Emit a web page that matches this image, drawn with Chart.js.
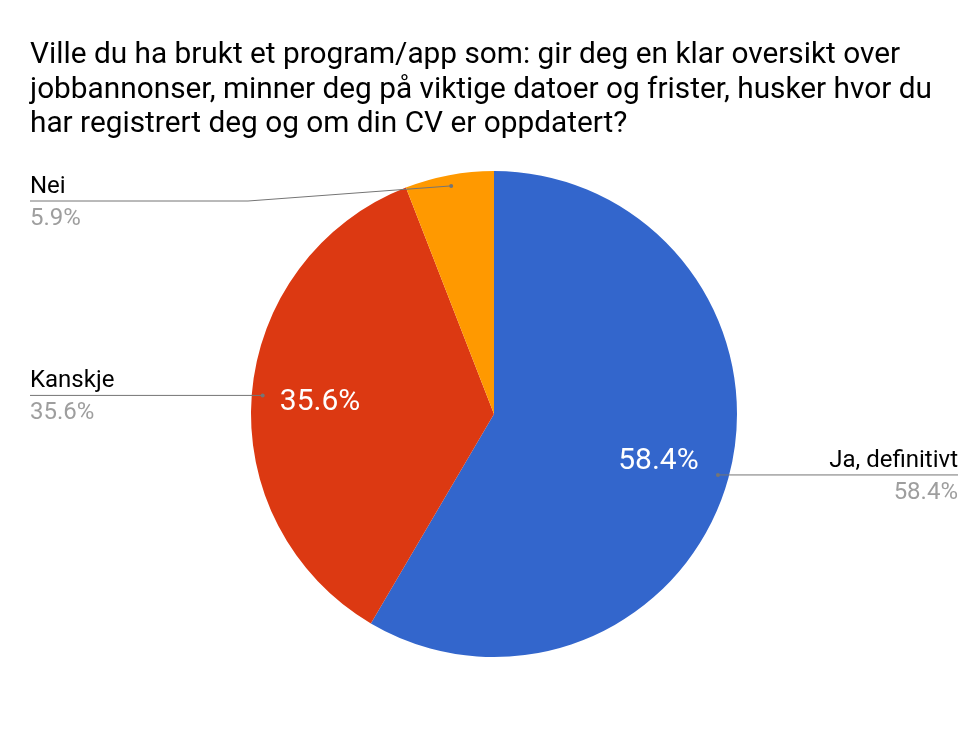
<!DOCTYPE html>
<html><head><meta charset="utf-8">
<script src="https://cdn.jsdelivr.net/npm/chart.js@4/dist/chart.umd.min.js"></script>
<style>html,body{margin:0;padding:0;background:#fff}canvas{display:block}</style>
</head><body>
<canvas id="c" width="968" height="745"></canvas>
<script>
const titleLines = ["Ville du ha brukt et program/app som: gir deg en klar oversikt over","jobbannonser, minner deg på viktige datoer og frister, husker hvor du","har registrert deg og om din CV er oppdatert?"];
const categories = ["Ja, definitivt","Kanskje","Nei"];
const values = [58.4, 35.6, 5.9];
const colors = ["#3366cc","#dc3912","#ff9900"];
const FONT = "Roboto, 'Liberation Sans', sans-serif";

const labelPlugin = {
  id:'labels',
  afterDraw(chart){
    const ctx = chart.ctx;
    ctx.save();
    ctx.fillStyle = '#000';
    ctx.font = '29.8px ' + FONT;
    ctx.textBaseline = 'alphabetic';
    ctx.textAlign = 'left';
    titleLines.forEach((t,i)=>ctx.fillText(t, 30, 63 + i*34.5));
    const meta = chart.getDatasetMeta(0);
    const total = values.reduce((a,b)=>a+b,0);
    meta.data.forEach((arc,i)=>{
      const {x,y,startAngle,endAngle,outerRadius} = arc.getProps(['x','y','startAngle','endAngle','outerRadius'],true);
      const mid = (startAngle+endAngle)/2;
      const pct = values[i].toFixed(1)+'%';
      if (values[i]/total > 0.1){
        const r = outerRadius*0.71;
        ctx.fillStyle = '#fff';
        ctx.font = '30px ' + FONT;
        ctx.textAlign = 'center';
        ctx.textBaseline = 'middle';
        ctx.fillText(pct, x + Math.cos(mid)*r - 2, y + Math.sin(mid)*r + 2);
      }
      const dr = outerRadius*0.955;
      const dx = x + Math.cos(mid)*dr, dy = y + Math.sin(mid)*dr;
      const right = Math.cos(mid) > 0;
      let ly = dy;
      ctx.strokeStyle = '#757575';
      ctx.lineWidth = 1;
      ctx.beginPath();
      let endX;
      if (right){
        endX = 958;
        ctx.moveTo(dx,dy); ctx.lineTo(endX,dy);
      } else {
        endX = 30;
        if (i===2){ ly = 201; ctx.moveTo(dx,dy); ctx.lineTo(248,ly); ctx.lineTo(endX,ly); }
        else { ctx.moveTo(dx,dy); ctx.lineTo(endX,dy); }
      }
      ctx.stroke();
      ctx.fillStyle = '#757575';
      ctx.beginPath(); ctx.arc(dx,dy,2,0,Math.PI*2); ctx.fill();
      ctx.font = '24px ' + FONT;
      ctx.textBaseline = 'alphabetic';
      ctx.textAlign = right ? 'right' : 'left';
      ctx.fillStyle = '#000';
      ctx.fillText(categories[i], endX, ly - 8);
      ctx.fillStyle = '#9e9e9e';
      ctx.fillText(pct, endX, ly + 24);
    });
    ctx.restore();
  }
};

new Chart(document.getElementById('c'), {
  type:'pie',
  data:{labels:categories, datasets:[{data:values, backgroundColor:colors, borderWidth:0}]},
  options:{
    responsive:false, animation:false,
    layout:{padding:{top:171,bottom:88,left:251,right:231}},
    plugins:{legend:{display:false}, tooltip:{enabled:false}, title:{display:false}}
  },
  plugins:[labelPlugin]
});
</script>
</body></html>
